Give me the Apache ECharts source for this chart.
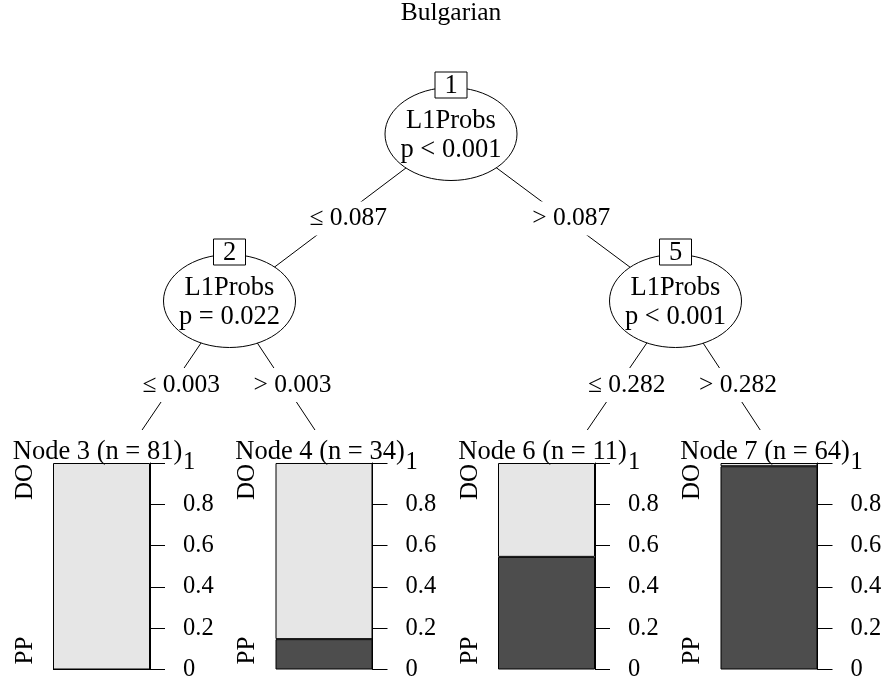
<!DOCTYPE html>
<html>
<head>
<meta charset="utf-8">
<script src="https://cdn.jsdelivr.net/npm/echarts@6/dist/echarts.min.js"></script>
<style>
  html, body { margin: 0; padding: 0; background: #ffffff; }
  #chart { width: 885px; height: 682px; }
</style>
</head>
<body>
<div id="chart"></div>
<script>
// Conditional inference tree for the Bulgarian data: inner split nodes and terminal class bars
const chartTitle = 'Bulgarian';
const classNames = ['PP', 'DO'];               // bottom class, top class
const terminalIds = [3, 4, 6, 7];
const countPP = [0, 5, 6, 63];
const countDO = [81, 29, 5, 1];
const innerIds = [1, 2, 5];
const innerVars = ['L1Probs', 'L1Probs', 'L1Probs'];
const innerPvals = ['p < 0.001', 'p = 0.022', 'p < 0.001'];
const splitLabels = ['≤ 0.087', '> 0.087', '≤ 0.003', '> 0.003', '≤ 0.282', '> 0.282'];
const yTicks = [0, 0.2, 0.4, 0.6, 0.8, 1];

// ---- layout ----
const FONT = 'Liberation Serif, Times New Roman, serif';
const FS_TITLE = 25.5, FS_NODE = 26.5, FS_EDGE = 25.5, FS_TICK = 24.5, FS_CLASS = 25;
const panelLeft = [53, 275.5, 498, 720.5];
const panelW = 97;
const panelTop = 463;
const panelH = 208;
const anchorOffset = 64;       // edge target x relative to panel left
const anchorY = 467;           // edge target y for terminals
const clipY = 430;             // edges stop at the top of the terminal area
const innerPos = [[451, 134], [229.5, 301], [675.5, 301]];
const ellRx = 66, ellRy = 46.5;
// edges: [parent inner index, child ('i'nner or 't'erminal), child index]
const edges = [
  [0, 'i', 1], [0, 'i', 2],
  [1, 't', 0], [1, 't', 1],
  [2, 't', 2], [2, 't', 3]
];

const totals = countPP.map((v, i) => v + countDO[i]);
const fracPP = countPP.map((v, i) => v / totals[i]);
const fracDO = countDO.map((v, i) => v / totals[i]);

const DARK = '#4d4d4d';
const LIGHT = '#e6e6e6';

const grids = [], xAxes = [], yAxes = [], series = [];
terminalIds.forEach((id, i) => {
  grids.push({ left: panelLeft[i], top: panelTop, width: panelW, height: panelH });
  xAxes.push({ gridIndex: i, type: 'category', data: ['Node ' + id], show: false });
  yAxes.push({
    gridIndex: i, type: 'value', position: 'right',
    min: yTicks[0], max: yTicks[yTicks.length - 1], interval: 0.2,
    axisLine: { show: true, lineStyle: { color: '#000', width: 1 } },
    axisTick: { show: true, inside: false, length: 15, lineStyle: { color: '#000', width: 1 } },
    axisLabel: { show: true, margin: 33, color: '#000', fontFamily: FONT, fontSize: FS_TICK,
                 formatter: v => String(v) },
    splitLine: { show: false }
  });
  series.push({
    type: 'bar', name: classNames[0], xAxisIndex: i, yAxisIndex: i, stack: 's' + i,
    barWidth: '100%', data: [fracPP[i]],
    itemStyle: { color: DARK, borderColor: '#000', borderWidth: 1 }, silent: true
  });
  series.push({
    type: 'bar', name: classNames[1], xAxisIndex: i, yAxisIndex: i, stack: 's' + i,
    barWidth: '100%', data: [fracDO[i]],
    itemStyle: { color: LIGHT, borderColor: '#000', borderWidth: 1 }, silent: true
  });
});

const graphics = [];
const textStyle = (size, extra) => Object.assign({
  fill: '#000', font: size + 'px ' + FONT, align: 'center', verticalAlign: 'middle'
}, extra || {});

// title
graphics.push({ type: 'text', x: 451, y: 13.5, z: 10, style: textStyle(FS_TITLE, { text: chartTitle }) });

// edges with their split labels
edges.forEach((e, k) => {
  const [px, py] = innerPos[e[0]];
  let cx, cy, endY;
  if (e[1] === 'i') { [cx, cy] = innerPos[e[2]]; endY = cy; }
  else { cx = panelLeft[e[2]] + anchorOffset; cy = anchorY; endY = clipY; }
  const t = (endY - py) / (cy - py);
  const ex = px + (cx - px) * t;
  graphics.push({ type: 'line', z: 1, shape: { x1: px, y1: py, x2: ex, y2: endY },
                  style: { stroke: '#000', lineWidth: 1 } });
  const my = (py + cy) / 2;
  const mx = px + (cx - px) * 0.5 + 8;
  graphics.push({ type: 'text', x: mx, y: my + 1, z: 2,
    style: textStyle(FS_EDGE, { text: splitLabels[k], backgroundColor: '#fff', padding: [4, 3] }) });
});

// inner nodes: ellipse, id box, variable and p-value
innerIds.forEach((id, j) => {
  const [cx, cy] = innerPos[j];
  graphics.push({ type: 'ellipse', z: 3, shape: { cx: cx, cy: cy, rx: ellRx, ry: ellRy },
                  style: { fill: '#fff', stroke: '#000', lineWidth: 1 } });
  graphics.push({ type: 'rect', z: 4, shape: { x: cx - 16, y: cy - 62, width: 32, height: 26 },
                  style: { fill: '#fff', stroke: '#000', lineWidth: 1 } });
  graphics.push({ type: 'text', z: 5, x: cx, y: cy - 48, style: textStyle(FS_NODE, { text: String(id) }) });
  graphics.push({ type: 'text', z: 5, x: cx, y: cy - 13, style: textStyle(FS_NODE, { text: innerVars[j] }) });
  graphics.push({ type: 'text', z: 5, x: cx, y: cy + 16, style: textStyle(FS_NODE, { text: innerPvals[j] }) });
});

// terminal headers and class labels
terminalIds.forEach((id, i) => {
  graphics.push({ type: 'text', z: 6, x: panelLeft[i] + panelW / 2 - 4, y: 452,
                  style: textStyle(FS_NODE, { text: 'Node ' + id + ' (n = ' + totals[i] + ')' }) });
  graphics.push({ type: 'text', z: 6, x: panelLeft[i] - 28, y: panelTop + 19, rotation: Math.PI / 2,
                  style: textStyle(FS_CLASS, { text: classNames[1] }) });
  graphics.push({ type: 'text', z: 6, x: panelLeft[i] - 28, y: panelTop + panelH - 20.5, rotation: Math.PI / 2,
                  style: textStyle(FS_CLASS, { text: classNames[0] }) });
});

const chart = echarts.init(document.getElementById('chart'), null, { renderer: 'canvas' });
chart.setOption({
  backgroundColor: '#ffffff',
  animation: false,
  grid: grids,
  xAxis: xAxes,
  yAxis: yAxes,
  series: series,
  graphic: graphics
});
</script>
</body>
</html>
